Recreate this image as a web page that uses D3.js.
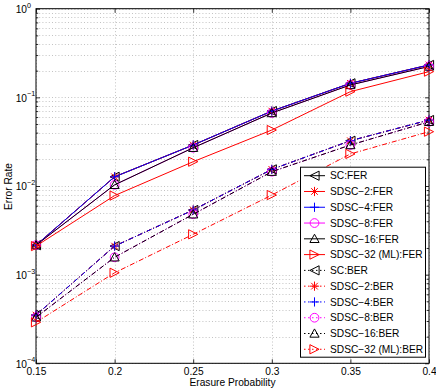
<!DOCTYPE html>
<html>
<head>
<meta charset="utf-8">
<script src="https://cdn.jsdelivr.net/npm/d3@7"></script>
<style>
  body { margin: 0; background: #fff; }
  text { font-family: "Liberation Sans", Arial, Helvetica, sans-serif; font-size: 10.2px; fill: #000; }
</style>
</head>
<body>
<svg id="chart"></svg>
<script>
// Error rate vs erasure probability (log y)

const erasure = [0.15, 0.2, 0.25, 0.3, 0.35, 0.4];

// FER curves
const scFer     = [2.15e-3, 0.0127, 0.029, 0.070, 0.144, 0.232];
const sdsc2Fer  = [2.15e-3, 0.0127, 0.029, 0.070, 0.144, 0.232];
const sdsc4Fer  = [2.15e-3, 0.0127, 0.029, 0.070, 0.144, 0.232];
const sdsc8Fer  = [2.15e-3, 0.0103, 0.027, 0.0666, 0.138, 0.223];
const sdsc16Fer = [2.15e-3, 0.0103, 0.027, 0.0666, 0.138, 0.223];
const sdsc32Fer = [2.1e-3, 7.8e-3, 0.0188, 0.0428, 0.116, 0.195];

// BER curves
const scBer     = [3.5e-4, 2.1e-3, 5.36e-3, 0.0154, 0.0324, 0.0555];
const sdsc2Ber  = [3.5e-4, 2.1e-3, 5.36e-3, 0.0154, 0.0324, 0.0555];
const sdsc4Ber  = [3.5e-4, 2.1e-3, 5.36e-3, 0.0154, 0.0324, 0.0555];
const sdsc8Ber  = [3.3e-4, 1.57e-3, 4.8e-3, 0.0145, 0.029, 0.053];
const sdsc16Ber = [3.3e-4, 1.57e-3, 4.8e-3, 0.0145, 0.029, 0.053];
const sdsc32Ber = [2.9e-4, 1.05e-3, 2.85e-3, 7.9e-3, 0.023, 0.041];

const xTicks = [0.15, 0.2, 0.25, 0.3, 0.35, 0.4];
const xTickLabels = ['0.15', '0.2', '0.25', '0.3', '0.35', '0.4'];
const yTicks = [1e-4, 1e-3, 1e-2, 1e-1, 1];
const yTickExp = ['\u22124', '\u22123', '\u22122', '\u22121', '0'];

const series = [
  { name: 'SC:FER',               values: scFer,     color: '#000', marker: 'tri-left',  dash: null },
  { name: 'SDSC\u22122:FER',      values: sdsc2Fer,  color: '#f00', marker: 'star',      dash: null },
  { name: 'SDSC\u22124:FER',      values: sdsc4Fer,  color: '#00f', marker: 'plus',      dash: null },
  { name: 'SDSC\u22128:FER',      values: sdsc8Fer,  color: '#f0f', marker: 'circle',    dash: null },
  { name: 'SDSC\u221216:FER',     values: sdsc16Fer, color: '#000', marker: 'tri-up',    dash: null },
  { name: 'SDSC\u221232 (ML):FER', values: sdsc32Fer, color: '#f00', marker: 'tri-right', dash: null },
  { name: 'SC:BER',               values: scBer,     color: '#000', marker: 'tri-left',  dash: '5,2,1,2' },
  { name: 'SDSC\u22122:BER',      values: sdsc2Ber,  color: '#f00', marker: 'star',      dash: '5,2,1,2' },
  { name: 'SDSC\u22124:BER',      values: sdsc4Ber,  color: '#00f', marker: 'plus',      dash: '5,2,1,2' },
  { name: 'SDSC\u22128:BER',      values: sdsc8Ber,  color: '#f0f', marker: 'circle',    dash: '5,2,1,2' },
  { name: 'SDSC\u221216:BER',     values: sdsc16Ber, color: '#000', marker: 'tri-up',    dash: '5,2,1,2' },
  { name: 'SDSC\u221232 (ML):BER', values: sdsc32Ber, color: '#f00', marker: 'tri-right', dash: '5,2,1,2' }
];

const width = 436, height = 389;
const plot = { left: 36, right: 429, top: 8.7, bottom: 363.3 };

const svg = d3.select('#chart')
  .attr('width', width)
  .attr('height', height);

svg.append('rect')
  .attr('width', width)
  .attr('height', height)
  .attr('fill', '#fff');

const xScale = d3.scaleLinear()
  .domain([0.15, 0.4])
  .range([plot.left, plot.right]);

const yScale = d3.scaleLog()
  .domain([1e-4, 1])
  .range([plot.bottom, plot.top]);

// minor log values
const minorY = [];
for (let k = -4; k < 0; k++) {
  for (let m = 2; m <= 9; m++) minorY.push(m * Math.pow(10, k));
}

// Grid lines
const grid = svg.append('g').attr('class', 'grid')
  .style('stroke', '#b4b4b4')
  .style('stroke-width', 0.8)
  .style('stroke-dasharray', '1,2.2');

grid.selectAll('.gy')
  .data(yTicks.concat(minorY))
  .enter()
  .append('line')
  .attr('x1', plot.left)
  .attr('x2', plot.right)
  .attr('y1', d => Math.round(yScale(d)) + 0.5)
  .attr('y2', d => Math.round(yScale(d)) + 0.5);

grid.selectAll('.gx')
  .data(xTicks)
  .enter()
  .append('line')
  .attr('x1', d => Math.round(xScale(d)) + 0.5)
  .attr('x2', d => Math.round(xScale(d)) + 0.5)
  .attr('y1', plot.top)
  .attr('y2', plot.bottom);

// Axes (ticks inside, mirrored on top/right)
const xAxis = d3.axisBottom(xScale)
  .tickValues(xTicks)
  .tickFormat((d, i) => xTickLabels[i])
  .tickSizeInner(-4)
  .tickSizeOuter(0)
  .tickPadding(8);

const xg = svg.append('g')
  .attr('transform', `translate(0,${plot.bottom})`)
  .call(xAxis);
xg.select('.domain').remove();
xg.selectAll('text')
  .style('font-size', '10.2px')
  .attr('dy', '0.71em')
  .attr('y', 4.5);

svg.append('g')
  .attr('transform', `translate(0,${plot.top})`)
  .call(d3.axisTop(xScale).tickValues(xTicks).tickFormat('').tickSizeInner(-4).tickSizeOuter(0))
  .select('.domain').remove();

const yAxis = d3.axisLeft(yScale)
  .tickValues(yTicks)
  .tickFormat('')
  .tickSizeInner(-4)
  .tickSizeOuter(0);

const yg = svg.append('g')
  .attr('transform', `translate(${plot.left},0)`)
  .call(yAxis);
yg.select('.domain').remove();

yg.selectAll('.tick')
  .append('text')
  .attr('x', -9)
  .attr('y', 3.7)
  .attr('text-anchor', 'end')
  .style('font-size', '10.2px')
  .text('10');

yg.selectAll('.tick')
  .append('text')
  .attr('x', -9)
  .attr('y', -1.5)
  .attr('text-anchor', 'start')
  .style('font-size', '7.2px')
  .text((d, i) => yTickExp[i]);

svg.append('g')
  .attr('transform', `translate(${plot.left},0)`)
  .call(d3.axisLeft(yScale).tickValues(minorY).tickFormat('').tickSizeInner(-2.2).tickSizeOuter(0))
  .select('.domain').remove();

svg.append('g')
  .attr('transform', `translate(${plot.right},0)`)
  .call(d3.axisRight(yScale).tickValues(yTicks).tickFormat('').tickSizeInner(-4).tickSizeOuter(0))
  .select('.domain').remove();

svg.append('g')
  .attr('transform', `translate(${plot.right},0)`)
  .call(d3.axisRight(yScale).tickValues(minorY).tickFormat('').tickSizeInner(-2.2).tickSizeOuter(0))
  .select('.domain').remove();

svg.selectAll('.tick line').attr('stroke', '#000').attr('stroke-width', 0.8);

// Box
svg.append('rect')
  .attr('x', plot.left)
  .attr('y', plot.top)
  .attr('width', plot.right - plot.left)
  .attr('height', plot.bottom - plot.top)
  .attr('fill', 'none')
  .attr('stroke', '#000')
  .attr('stroke-width', 1);

// Axis labels
svg.append('text')
  .attr('x', (plot.left + plot.right) / 2)
  .attr('y', 386)
  .attr('text-anchor', 'middle')
  .text('Erasure Probability');

svg.append('text')
  .attr('transform', `translate(11.5,${(plot.top + plot.bottom) / 2 + 0.5}) rotate(-90)`)
  .attr('text-anchor', 'middle')
  .text('Error Rate');

// Markers
function markerPath(type) {
  const s = 4.6;
  switch (type) {
    case 'tri-left':  return `M${-s},0 L${s},${-s} L${s},${s} Z`;
    case 'tri-right': return `M${s},0 L${-s},${-s} L${-s},${s} Z`;
    case 'tri-up':    return `M0,${-s} L${s},${s * 0.8} L${-s},${s * 0.8} Z`;
    case 'plus':      return `M${-s},0 L${s},0 M0,${-s} L0,${s}`;
    case 'star': {
      const d = s * 0.72;
      return `M${-s},0 L${s},0 M0,${-s} L0,${s} M${-d},${-d} L${d},${d} M${-d},${d} L${d},${-d}`;
    }
    case 'circle': return d3.symbol(d3.symbolCircle, 60)();
  }
}

const lineGen = d3.line()
  .x(d => xScale(d[0]))
  .y(d => yScale(d[1]));

const plotGroup = svg.append('g');

series.forEach(s => {
  const pts = erasure.map((x, i) => [x, s.values[i]]);
  const g = plotGroup.append('g');
  g.append('path')
    .attr('d', lineGen(pts))
    .attr('fill', 'none')
    .attr('stroke', s.color)
    .attr('stroke-width', 1)
    .attr('stroke-dasharray', s.dash);
  g.selectAll('.m')
    .data(pts)
    .enter()
    .append('path')
    .attr('transform', d => `translate(${xScale(d[0])},${yScale(d[1])})`)
    .attr('d', markerPath(s.marker))
    .attr('fill', 'none')
    .attr('stroke', s.color)
    .attr('stroke-width', 1);
});

// Legend
const legend = { x: 300, y: 166.7, w: 125, h: 190, first: 175.7, step: 15.78 };

const lg = svg.append('g');
lg.append('rect')
  .attr('x', legend.x + 0.5)
  .attr('y', legend.y + 0.5)
  .attr('width', legend.w)
  .attr('height', legend.h)
  .attr('fill', '#fff')
  .attr('stroke', '#000')
  .attr('stroke-width', 1);

const items = lg.selectAll('.item')
  .data(series)
  .enter()
  .append('g')
  .attr('transform', (d, i) => `translate(0,${legend.first + i * legend.step})`);

items.append('line')
  .attr('x1', 304)
  .attr('x2', 325)
  .attr('stroke', d => d.color)
  .attr('stroke-width', 1)
  .attr('stroke-dasharray', d => d.dash ? '1.5,2.5' : null);

items.append('path')
  .attr('transform', 'translate(314.5,0)')
  .attr('d', d => markerPath(d.marker))
  .attr('fill', 'none')
  .attr('stroke', d => d.color)
  .attr('stroke-width', 1);

items.append('text')
  .attr('x', 330)
  .attr('y', 3.7)
  .text(d => d.name);
</script>
</body>
</html>
